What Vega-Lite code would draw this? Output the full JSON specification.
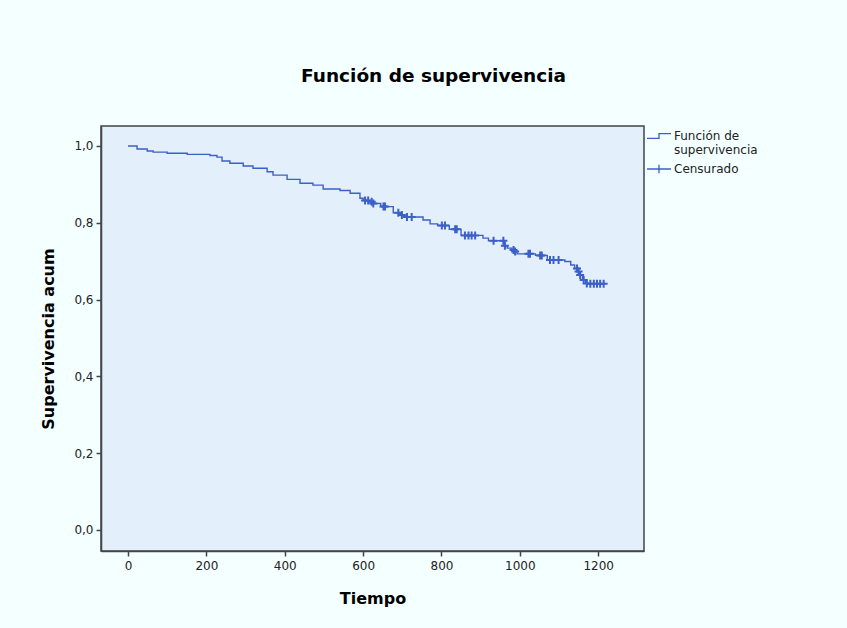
{
  "$schema": "https://vega.github.io/schema/vega-lite/v6.json",
  "width": 543,
  "height": 425,
  "autosize": "none",
  "padding": {"left": 101, "top": 126, "right": 203, "bottom": 77},
  "background": "#F4FFFF",
  "config": {
    "font": "DejaVu Sans",
    "view": {"fill": "#E3EFFB", "stroke": "#444444", "strokeWidth": 1.5},
    "axis": {"grid": false, "labelFont": "DejaVu Sans", "labelFontSize": 12, "labelColor": "#222222", "tickColor": "#444444", "domainColor": "#444444", "domainWidth": 1.5, "tickWidth": 1.5, "tickSize": 5, "titleFont": "DejaVu Sans", "titleFontSize": 16, "titleFontWeight": "bold", "titleColor": "#000000"}
  },
  "title": {"text": "Función de supervivencia", "fontSize": 18.5, "fontWeight": "bold", "font": "DejaVu Sans", "anchor": "middle", "dx": 61, "offset": 38, "color": "#000000"},
  "datasets": {
    "curve": [
      {"t": 0, "s": 1.000}, {"t": 23, "s": 0.992}, {"t": 49, "s": 0.987}, {"t": 64, "s": 0.984}, {"t": 100, "s": 0.981},
      {"t": 151, "s": 0.978}, {"t": 209, "s": 0.975}, {"t": 227, "s": 0.971}, {"t": 240, "s": 0.961}, {"t": 260, "s": 0.955},
      {"t": 294, "s": 0.948}, {"t": 319, "s": 0.942}, {"t": 355, "s": 0.933}, {"t": 370, "s": 0.924}, {"t": 406, "s": 0.913},
      {"t": 439, "s": 0.903}, {"t": 472, "s": 0.898}, {"t": 498, "s": 0.888}, {"t": 541, "s": 0.884}, {"t": 567, "s": 0.877},
      {"t": 592, "s": 0.864}, {"t": 600, "s": 0.858}, {"t": 615, "s": 0.855}, {"t": 624, "s": 0.850}, {"t": 645, "s": 0.842},
      {"t": 677, "s": 0.826}, {"t": 695, "s": 0.820}, {"t": 705, "s": 0.815}, {"t": 753, "s": 0.807}, {"t": 771, "s": 0.797},
      {"t": 790, "s": 0.793}, {"t": 820, "s": 0.783}, {"t": 850, "s": 0.767}, {"t": 906, "s": 0.760}, {"t": 920, "s": 0.753},
      {"t": 960, "s": 0.740}, {"t": 968, "s": 0.734}, {"t": 980, "s": 0.729}, {"t": 986, "s": 0.725}, {"t": 993, "s": 0.719},
      {"t": 1040, "s": 0.715}, {"t": 1070, "s": 0.703}, {"t": 1115, "s": 0.699}, {"t": 1130, "s": 0.690}, {"t": 1140, "s": 0.681},
      {"t": 1148, "s": 0.673}, {"t": 1152, "s": 0.664}, {"t": 1160, "s": 0.651}, {"t": 1168, "s": 0.642}, {"t": 1175, "s": 0.641},
      {"t": 1214, "s": 0.641}
    ],
    "censor": [
      {"t": 605, "s": 0.858, "type": "Censurado"}, {"t": 613, "s": 0.858, "type": "Censurado"}, {"t": 622, "s": 0.855, "type": "Censurado"},
      {"t": 626, "s": 0.850, "type": "Censurado"}, {"t": 652, "s": 0.842, "type": "Censurado"}, {"t": 656, "s": 0.842, "type": "Censurado"},
      {"t": 690, "s": 0.826, "type": "Censurado"}, {"t": 699, "s": 0.820, "type": "Censurado"}, {"t": 712, "s": 0.815, "type": "Censurado"},
      {"t": 724, "s": 0.815, "type": "Censurado"}, {"t": 801, "s": 0.793, "type": "Censurado"}, {"t": 809, "s": 0.793, "type": "Censurado"},
      {"t": 835, "s": 0.783, "type": "Censurado"}, {"t": 839, "s": 0.783, "type": "Censurado"}, {"t": 860, "s": 0.767, "type": "Censurado"},
      {"t": 869, "s": 0.767, "type": "Censurado"}, {"t": 877, "s": 0.767, "type": "Censurado"}, {"t": 886, "s": 0.767, "type": "Censurado"},
      {"t": 933, "s": 0.753, "type": "Censurado"}, {"t": 958, "s": 0.753, "type": "Censurado"}, {"t": 962, "s": 0.740, "type": "Censurado"},
      {"t": 984, "s": 0.729, "type": "Censurado"}, {"t": 988, "s": 0.725, "type": "Censurado"}, {"t": 1022, "s": 0.719, "type": "Censurado"},
      {"t": 1026, "s": 0.719, "type": "Censurado"}, {"t": 1052, "s": 0.715, "type": "Censurado"}, {"t": 1056, "s": 0.715, "type": "Censurado"},
      {"t": 1077, "s": 0.703, "type": "Censurado"}, {"t": 1086, "s": 0.703, "type": "Censurado"}, {"t": 1099, "s": 0.703, "type": "Censurado"},
      {"t": 1146, "s": 0.681, "type": "Censurado"}, {"t": 1150, "s": 0.673, "type": "Censurado"}, {"t": 1154, "s": 0.664, "type": "Censurado"},
      {"t": 1163, "s": 0.651, "type": "Censurado"}, {"t": 1171, "s": 0.642, "type": "Censurado"}, {"t": 1180, "s": 0.641, "type": "Censurado"},
      {"t": 1189, "s": 0.641, "type": "Censurado"}, {"t": 1197, "s": 0.641, "type": "Censurado"}, {"t": 1205, "s": 0.641, "type": "Censurado"},
      {"t": 1214, "s": 0.641, "type": "Censurado"}
    ]
  },
  "layer": [
    {
      "data": {"name": "curve"},
      "mark": {"type": "line", "interpolate": "step-after", "color": "#3D5FC8", "strokeWidth": 1.4},
      "encoding": {
        "x": {"field": "t", "type": "quantitative", "scale": {"domain": [-69, 1317], "nice": false, "zero": false},
              "axis": {"values": [0, 200, 400, 600, 800, 1000, 1200], "format": "d", "title": "Tiempo", "labelPadding": 4, "titlePadding": 19}},
        "y": {"field": "s", "type": "quantitative", "scale": {"domain": [-0.055, 1.052], "nice": false, "zero": false},
              "axis": {"values": [0, 0.2, 0.4, 0.6, 0.8, 1.0], "title": "Supervivencia acum", "labelExpr": "replace(format(datum.value, '.1f'), '.', ',')", "labelPadding": 3, "titlePadding": 17}}
      }
    },
    {
      "data": {"name": "censor"},
      "mark": {"type": "point", "filled": false, "color": "#3D5FC8", "strokeWidth": 2, "size": 64, "opacity": 1, "shape": "M-1,0H1M0,-1V1"},
      "encoding": {
        "x": {"field": "t", "type": "quantitative"},
        "y": {"field": "s", "type": "quantitative"}
      }
    },
    {
      "data": {"name": "censor"},
      "mark": {"type": "point", "filled": false, "color": "#3D5FC8", "strokeWidth": 1.3, "size": 576, "opacity": 0},
      "encoding": {
        "x": {"field": "t", "type": "quantitative"},
        "y": {"field": "s", "type": "quantitative"},
        "shape": {
          "field": "type", "type": "nominal",
          "scale": {"domain": ["Función de supervivencia", "Censurado"], "range": ["M-1,0.2H0V-0.2H1", "M-1,0H1M0,-0.35V0.35"]},
          "legend": {
            "title": null, "orient": "none", "legendX": 545, "legendY": -3, "padding": 0,
            "labelFont": "DejaVu Sans", "labelFontSize": 12, "labelColor": "#222222", "labelOffset": 2, "labelLineHeight": 12,
            "rowPadding": 0, "symbolSize": 576, "symbolStrokeColor": "#3D5FC8", "symbolFillColor": "transparent", "symbolStrokeWidth": 1.3,
            "labelExpr": "datum.label == 'Censurado' ? 'Censurado' : ['Función de', 'supervivencia']",
            "encode": {
              "symbols": {"update": {
                "size": {"value": 576},
                "opacity": {"value": 1},
                "stroke": {"value": "#3D5FC8"},
                "fill": {"value": "transparent"},
                "strokeWidth": {"value": 1.3}
              }}
            }
          }
        }
      }
    }
  ]
}
